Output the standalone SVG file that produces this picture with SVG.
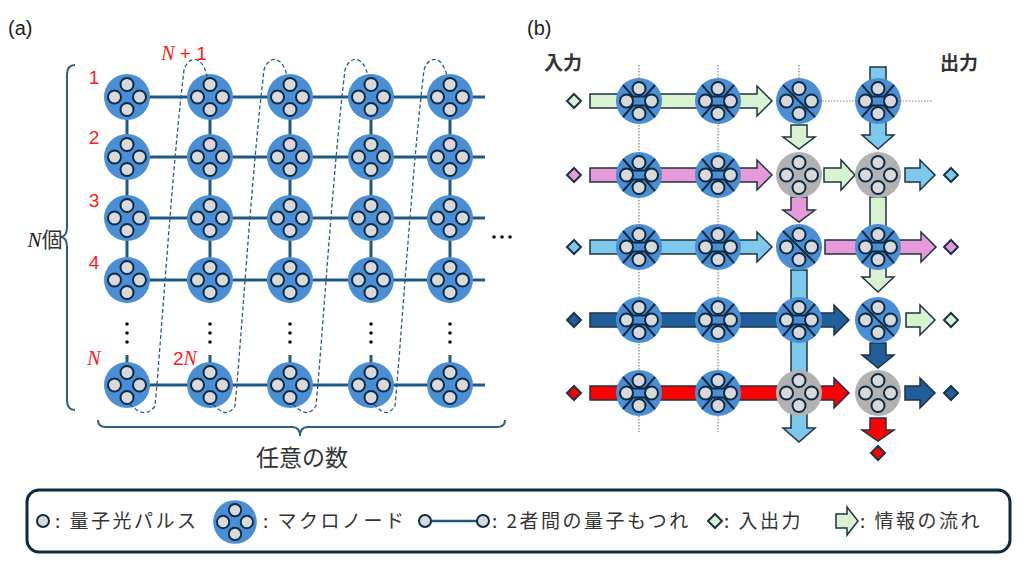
<svg xmlns="http://www.w3.org/2000/svg" xmlns:xlink="http://www.w3.org/1999/xlink" width="1024" height="571" viewBox="0 0 1024 571">
<style>
.t{font-family:"Noto Sans CJK JP","Liberation Sans",sans-serif;fill:#333}
.lg{font-size:19px;letter-spacing:2.5px}
.lbl{font-family:"Liberation Sans","Noto Sans",sans-serif;fill:#222}
.red{font-family:"Liberation Sans",sans-serif;fill:#ff1a1a;font-size:19px}
.redi{font-family:"Liberation Serif",serif;font-style:italic;fill:#ff1a1a;font-size:20px}
.link{stroke:#1c5a85;stroke-width:3;fill:none}
.dash{stroke:#2a5b80;stroke-width:1.3;fill:none;stroke-dasharray:4 2.5}
.brace{stroke:#2e5e7e;stroke-width:2;fill:none}
.dot{stroke:#808080;stroke-width:1.2;stroke-dasharray:1.5 1.5;fill:none}
.arr{stroke:#1b3346;stroke-width:1.5;stroke-linejoin:miter}
.g{fill:#d9f2d0}.p{fill:#e69ad8}.lb{fill:#7ec8ec}.db{fill:#215e99}.r{fill:#ff0000}
.sep{stroke:#0f2a40;stroke-width:2;fill:none}
.dia{stroke:#1b3346;stroke-width:2}
</style>
<defs>
<g id="sc"><circle cx="0" cy="-12.5" r="6.5"/><circle cx="-12.5" cy="0" r="6.5"/><circle cx="12.5" cy="0" r="6.5"/><circle cx="0" cy="12.5" r="6.5"/></g>
<g id="mn"><circle r="23" fill="#4a8fd5"/><use xlink:href="#sc" fill="#d9d9d9" stroke="#0d2b45" stroke-width="2"/></g>
<g id="gn"><circle r="23" fill="#b2b2b2"/><use xlink:href="#sc" fill="#d9d9d9" stroke="#0d2b45" stroke-width="2"/></g>
<g id="xn"><use xlink:href="#mn"/><polyline class="sep" points="-16,-16 -6,-4.5 6,-4.5 16,-16"/><polyline class="sep" points="-16,16 -6,4.5 6,4.5 16,16"/></g>
<g id="dn"><use xlink:href="#mn"/><line class="sep" x1="-16" y1="-16" x2="16" y2="16"/></g>
</defs>
<rect width="1024" height="571" fill="#fff"/>

<!-- Panel (a) -->
<text class="lbl" x="8" y="35" font-size="20">(a)</text>
<g id="a-connectors">
<line class="link" x1="127" y1="97" x2="485" y2="97"/>
<line class="link" x1="127" y1="157" x2="485" y2="157"/>
<line class="link" x1="127" y1="218" x2="485" y2="218"/>
<line class="link" x1="127" y1="280" x2="485" y2="280"/>
<line class="link" x1="127" y1="385" x2="485" y2="385"/>
<g id="a-vert">
<line class="link" x1="127" y1="97" x2="127" y2="303"/>
<line class="link" x1="210" y1="97" x2="210" y2="303"/>
<line class="link" x1="290" y1="97" x2="290" y2="303"/>
<line class="link" x1="371" y1="97" x2="371" y2="303"/>
<line class="link" x1="450" y1="97" x2="450" y2="303"/>
<line class="link" x1="127" y1="355" x2="127" y2="385"/>
<line class="link" x1="210" y1="355" x2="210" y2="385"/>
<line class="link" x1="290" y1="355" x2="290" y2="385"/>
<line class="link" x1="371" y1="355" x2="371" y2="385"/>
<line class="link" x1="450" y1="355" x2="450" y2="385"/>
</g>
</g>
<g id="a-nodes">
<g id="a11"><use xlink:href="#mn" x="127" y="97"/></g><g id="a12"><use xlink:href="#mn" x="210" y="97"/></g><g id="a13"><use xlink:href="#mn" x="290" y="97"/></g><g id="a14"><use xlink:href="#mn" x="371" y="97"/></g><g id="a15"><use xlink:href="#mn" x="450" y="97"/></g>
<g id="a21"><use xlink:href="#mn" x="127" y="157"/></g><g id="a22"><use xlink:href="#mn" x="210" y="157"/></g><g id="a23"><use xlink:href="#mn" x="290" y="157"/></g><g id="a24"><use xlink:href="#mn" x="371" y="157"/></g><g id="a25"><use xlink:href="#mn" x="450" y="157"/></g>
<g id="a31"><use xlink:href="#mn" x="127" y="218"/></g><g id="a32"><use xlink:href="#mn" x="210" y="218"/></g><g id="a33"><use xlink:href="#mn" x="290" y="218"/></g><g id="a34"><use xlink:href="#mn" x="371" y="218"/></g><g id="a35"><use xlink:href="#mn" x="450" y="218"/></g>
<g id="a41"><use xlink:href="#mn" x="127" y="280"/></g><g id="a42"><use xlink:href="#mn" x="210" y="280"/></g><g id="a43"><use xlink:href="#mn" x="290" y="280"/></g><g id="a44"><use xlink:href="#mn" x="371" y="280"/></g><g id="a45"><use xlink:href="#mn" x="450" y="280"/></g>
<g id="a51"><use xlink:href="#mn" x="127" y="385"/></g><g id="a52"><use xlink:href="#mn" x="210" y="385"/></g><g id="a53"><use xlink:href="#mn" x="290" y="385"/></g><g id="a54"><use xlink:href="#mn" x="371" y="385"/></g><g id="a55"><use xlink:href="#mn" x="450" y="385"/></g>
</g>
<g id="a-dashed">
<path class="dash" d="M 130 404 C 139 414, 148 416, 155 406 C 162 330, 172 170, 184 70 C 188 56, 202 54, 207 76"/>
<path class="dash" d="M 213 404 C 222 414, 228 416, 235 406 C 242 330, 252 170, 264 70 C 268 56, 282 54, 287 76"/>
<path class="dash" d="M 293 404 C 302 414, 309 416, 316 406 C 323 330, 333 170, 345 70 C 349 56, 363 54, 368 76"/>
<path class="dash" d="M 374 404 C 383 414, 388 416, 395 406 C 402 330, 412 170, 424 70 C 428 56, 442 54, 447 76"/>
</g>
<g id="a-vdots" fill="#111">
<circle cx="127" cy="324" r="1.8"/><circle cx="127" cy="333" r="1.8"/><circle cx="127" cy="342" r="1.8"/>
<circle cx="210" cy="324" r="1.8"/><circle cx="210" cy="333" r="1.8"/><circle cx="210" cy="342" r="1.8"/>
<circle cx="290" cy="324" r="1.8"/><circle cx="290" cy="333" r="1.8"/><circle cx="290" cy="342" r="1.8"/>
<circle cx="371" cy="324" r="1.8"/><circle cx="371" cy="333" r="1.8"/><circle cx="371" cy="342" r="1.8"/>
<circle cx="450" cy="324" r="1.8"/><circle cx="450" cy="333" r="1.8"/><circle cx="450" cy="342" r="1.8"/>
<circle cx="494" cy="237" r="1.8"/><circle cx="502" cy="237" r="1.8"/><circle cx="510" cy="237" r="1.8"/>
</g>
<text class="red" x="94" y="84" text-anchor="middle">1</text>
<text class="red" x="94" y="144" text-anchor="middle">2</text>
<text class="red" x="94" y="207" text-anchor="middle">3</text>
<text class="red" x="94" y="269" text-anchor="middle">4</text>
<text class="redi" x="94" y="365" text-anchor="middle">N</text>
<text x="185" y="365" text-anchor="middle"><tspan class="red">2</tspan><tspan class="redi">N</tspan></text>
<text x="184" y="60" text-anchor="middle"><tspan class="redi">N</tspan><tspan class="red"> + 1</tspan></text>
<path class="brace" d="M 75 65 Q 67 65, 67 75 L 67 227 Q 67 237, 60 237 Q 67 237, 67 247 L 67 400 Q 67 410, 75 410"/>
<text x="45" y="247" text-anchor="middle" font-size="21"><tspan font-family="Liberation Serif,serif" font-style="italic" fill="#222">N</tspan><tspan class="t" fill="#222">個</tspan></text>
<path class="brace" d="M 98 420 Q 98 427, 106 427 L 292 427 Q 300 427, 300 436 Q 300 427, 308 427 L 497 427 Q 505 427, 505 420"/>
<text class="t" x="302" y="466" font-size="23" text-anchor="middle">任意の数</text>

<!-- Panel (b) -->
<text class="lbl" x="527" y="35" font-size="20">(b)</text>
<text class="t" x="563" y="70" font-size="19" font-weight="bold" text-anchor="middle" fill="#111">入力</text>
<text class="t" x="959" y="70" font-size="19" font-weight="bold" text-anchor="middle" fill="#111">出力</text>
<g id="b-guides">
<line class="dot" x1="639" y1="65" x2="639" y2="432"/>
<line class="dot" x1="718" y1="65" x2="718" y2="432"/>
<line class="dot" x1="799" y1="65" x2="799" y2="78"/>
<line class="dot" x1="822" y1="101" x2="933" y2="101"/>
</g>
<g id="b-flows" class="arr">
<polygon class="g" points="590,94 757,94 757,86 772,101 757,116 757,108 590,108"/>
<polygon class="p" points="590,168 757,168 757,160 772,175 757,190 757,182 590,182"/>
<polygon class="lb" points="590,240 757,240 757,232 772,247 757,262 757,254 590,254"/>
<polygon class="db" points="590,313 834,313 834,305 849,320 834,335 834,327 590,327"/>
<polygon class="r" points="590,386 834,386 834,378 849,393 834,408 834,400 590,400"/>
<polygon class="g" points="824,168 841,168 841,160 855,175 841,190 841,182 824,182"/>
<polygon class="lb" points="905,168 920,168 920,160 935,175 920,190 920,182 905,182"/>
<polygon class="p" points="825,240 921,240 921,232 936,247 921,262 921,254 825,254"/>
<polygon class="g" points="906,313 920,313 920,305 935,320 920,335 920,327 906,327"/>
<polygon class="db" points="905,386 920,386 920,378 935,393 920,408 920,400 905,400"/>
<polygon class="g" points="791,125 807,125 807,137 815,137 799,149 783,137 791,137"/>
<polygon class="lb" points="870,67 886,67 886,135 894,135 878,149 862,135 870,135"/>
<polygon class="p" points="791,197 807,197 807,210 815,210 799,222 783,210 791,210"/>
<polygon class="g" points="870,197 886,197 886,277 894,277 878,292 862,277 870,277"/>
<polygon class="lb" points="791,270 807,270 807,428 815,428 799,442 783,428 791,428"/>
<polygon class="db" points="870,343 886,343 886,355 894,355 878,368 862,355 870,355"/>
<polygon class="r" points="870,418 886,418 886,430 894,430 878,441 862,430 870,430"/>
</g>
<g id="b-nodes">
<g id="b11"><use xlink:href="#xn" x="639" y="101"/></g><g id="b12"><use xlink:href="#xn" x="718" y="101"/></g><g id="b13"><use xlink:href="#dn" x="799" y="101"/></g><g id="b14"><use xlink:href="#xn" x="878" y="101"/></g>
<g id="b21"><use xlink:href="#xn" x="639" y="175"/></g><g id="b22"><use xlink:href="#xn" x="718" y="175"/></g><g id="b23"><use xlink:href="#gn" x="799" y="175"/></g><g id="b24"><use xlink:href="#gn" x="878" y="175"/></g>
<g id="b31"><use xlink:href="#xn" x="639" y="247"/></g><g id="b32"><use xlink:href="#xn" x="718" y="247"/></g><g id="b33"><use xlink:href="#dn" x="799" y="247"/></g><g id="b34"><use xlink:href="#xn" x="878" y="247"/></g>
<g id="b41"><use xlink:href="#xn" x="639" y="320"/></g><g id="b42"><use xlink:href="#xn" x="718" y="320"/></g><g id="b43"><use xlink:href="#xn" x="799" y="320"/></g><g id="b44"><use xlink:href="#dn" x="878" y="320"/></g>
<g id="b51"><use xlink:href="#xn" x="639" y="393"/></g><g id="b52"><use xlink:href="#xn" x="718" y="393"/></g><g id="b53"><use xlink:href="#gn" x="799" y="393"/></g><g id="b54"><use xlink:href="#gn" x="878" y="393"/></g>
</g>
<g id="b-io" class="dia">
<polygon class="g" points="574,94 581,101 574,108 567,101"/>
<polygon class="p" points="574,168 581,175 574,182 567,175"/>
<polygon class="lb" points="574,240 581,247 574,254 567,247"/>
<polygon class="db" points="574,313 581,320 574,327 567,320"/>
<polygon class="r" points="574,386 581,393 574,400 567,393"/>
<polygon class="lb" points="951,168 958,175 951,182 944,175"/>
<polygon class="p" points="951,240 958,247 951,254 944,247"/>
<polygon class="g" points="951,313 958,320 951,327 944,320"/>
<polygon class="db" points="951,386 958,393 951,400 944,393"/>
<polygon class="r" points="878,446 885,453 878,460 871,453"/>
</g>

<!-- Legend -->
<g id="legend">
<rect x="27" y="490" width="983" height="62" rx="12" fill="#fff" stroke="#0e2a3d" stroke-width="3"/>
<circle cx="43" cy="521" r="6" fill="#d9d9d9" stroke="#0d2b45" stroke-width="2"/>
<text class="t lg" x="55" y="528">: 量子光パルス</text>
<g transform="translate(235,522) scale(0.95)"><use xlink:href="#mn"/></g>
<text class="t lg" x="263" y="528">: マクロノード</text>
<line x1="425" y1="521" x2="483" y2="521" stroke="#1c5a85" stroke-width="2.5"/>
<circle cx="425" cy="521" r="6" fill="#d9d9d9" stroke="#0d2b45" stroke-width="2"/>
<circle cx="483" cy="521" r="6" fill="#d9d9d9" stroke="#0d2b45" stroke-width="2"/>
<text class="t lg" x="492" y="528">: 2者間の量子もつれ</text>
<polygon class="g dia" points="715,514 722,521 715,528 708,521"/>
<text class="t lg" x="724" y="528">: 入出力</text>
<polygon class="g arr" points="836,514 847,514 847,507 858,521 847,535 847,528 836,528"/>
<text class="t lg" x="860" y="528">: 情報の流れ</text>
</g>
</svg>
